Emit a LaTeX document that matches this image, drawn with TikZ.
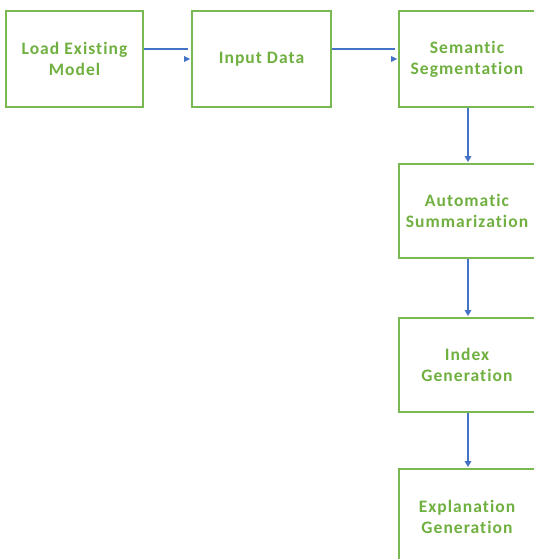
\documentclass[tikz,border=0pt]{standalone}
\usepackage{fontspec}
\setmainfont{Carlito}[Ligatures=NoCommon,LetterSpace=6]
\definecolor{boxgreen}{RGB}{122,184,82}
\definecolor{txtgreen}{RGB}{112,176,64}
\definecolor{linkblue}{RGB}{68,114,196}
\begin{document}
\begin{tikzpicture}[x=1pt,y=-1pt,
  stepbox/.style={draw=boxgreen,line width=2pt,minimum width=136pt,minimum height=96pt,inner sep=0pt,
    text=txtgreen,font=\fontsize{17.5}{21}\selectfont\bfseries,align=center,anchor=north west},
  link/.style={draw=linkblue,line width=1.5pt},
  tip/.style={fill=linkblue}]
\useasboundingbox (0,0) rectangle (534,559);
\fill[white] (0,0) rectangle (534,559);
\node[stepbox,minimum width=137pt] (load) at (5,10) {Load Existing\\Model};
\node[stepbox,minimum width=139pt] (input) at (191,10) {Input Data};
\node[stepbox,minimum width=136pt] (seg) at (398,10) {Semantic\\Segmentation};
\node[stepbox,minimum width=136pt,minimum height=94pt] (sum) at (398,163) {Automatic\\Summarization};
\node[stepbox,minimum width=136pt,minimum height=94pt] (idx) at (398,317) {Index\\Generation};
\node[stepbox,minimum width=136pt,minimum height=96pt] (expl) at (398,468) {Explanation\\Generation};
% horizontal links
\draw[link] ([yshift=10pt]load.east) -- ([xshift=-3pt,yshift=10pt]input.west);
\fill[tip] ([xshift=-1pt]input.west) -- ++(-6,-3) -- ++(0,6) -- cycle;
\draw[link] ([yshift=10pt]input.east) -- ([xshift=-3pt,yshift=10pt]seg.west);
\fill[tip] ([xshift=-1pt]seg.west) -- ++(-6,-3) -- ++(0,6) -- cycle;
% vertical links
\draw[link] ([xshift=1pt]seg.south) -- ([xshift=1pt,yshift=5pt]sum.north);
\fill[tip] ([xshift=1pt,yshift=1pt]sum.north) -- ++(-3.5,-6) -- ++(7,0) -- cycle;
\draw[link] ([xshift=1pt]sum.south) -- ([xshift=1pt,yshift=5pt]idx.north);
\fill[tip] ([xshift=1pt,yshift=1pt]idx.north) -- ++(-3.5,-6) -- ++(7,0) -- cycle;
\draw[link] ([xshift=1pt]idx.south) -- ([xshift=1pt,yshift=5pt]expl.north);
\fill[tip] ([xshift=1pt,yshift=1pt]expl.north) -- ++(-3.5,-6) -- ++(7,0) -- cycle;
\end{tikzpicture}
\end{document}
